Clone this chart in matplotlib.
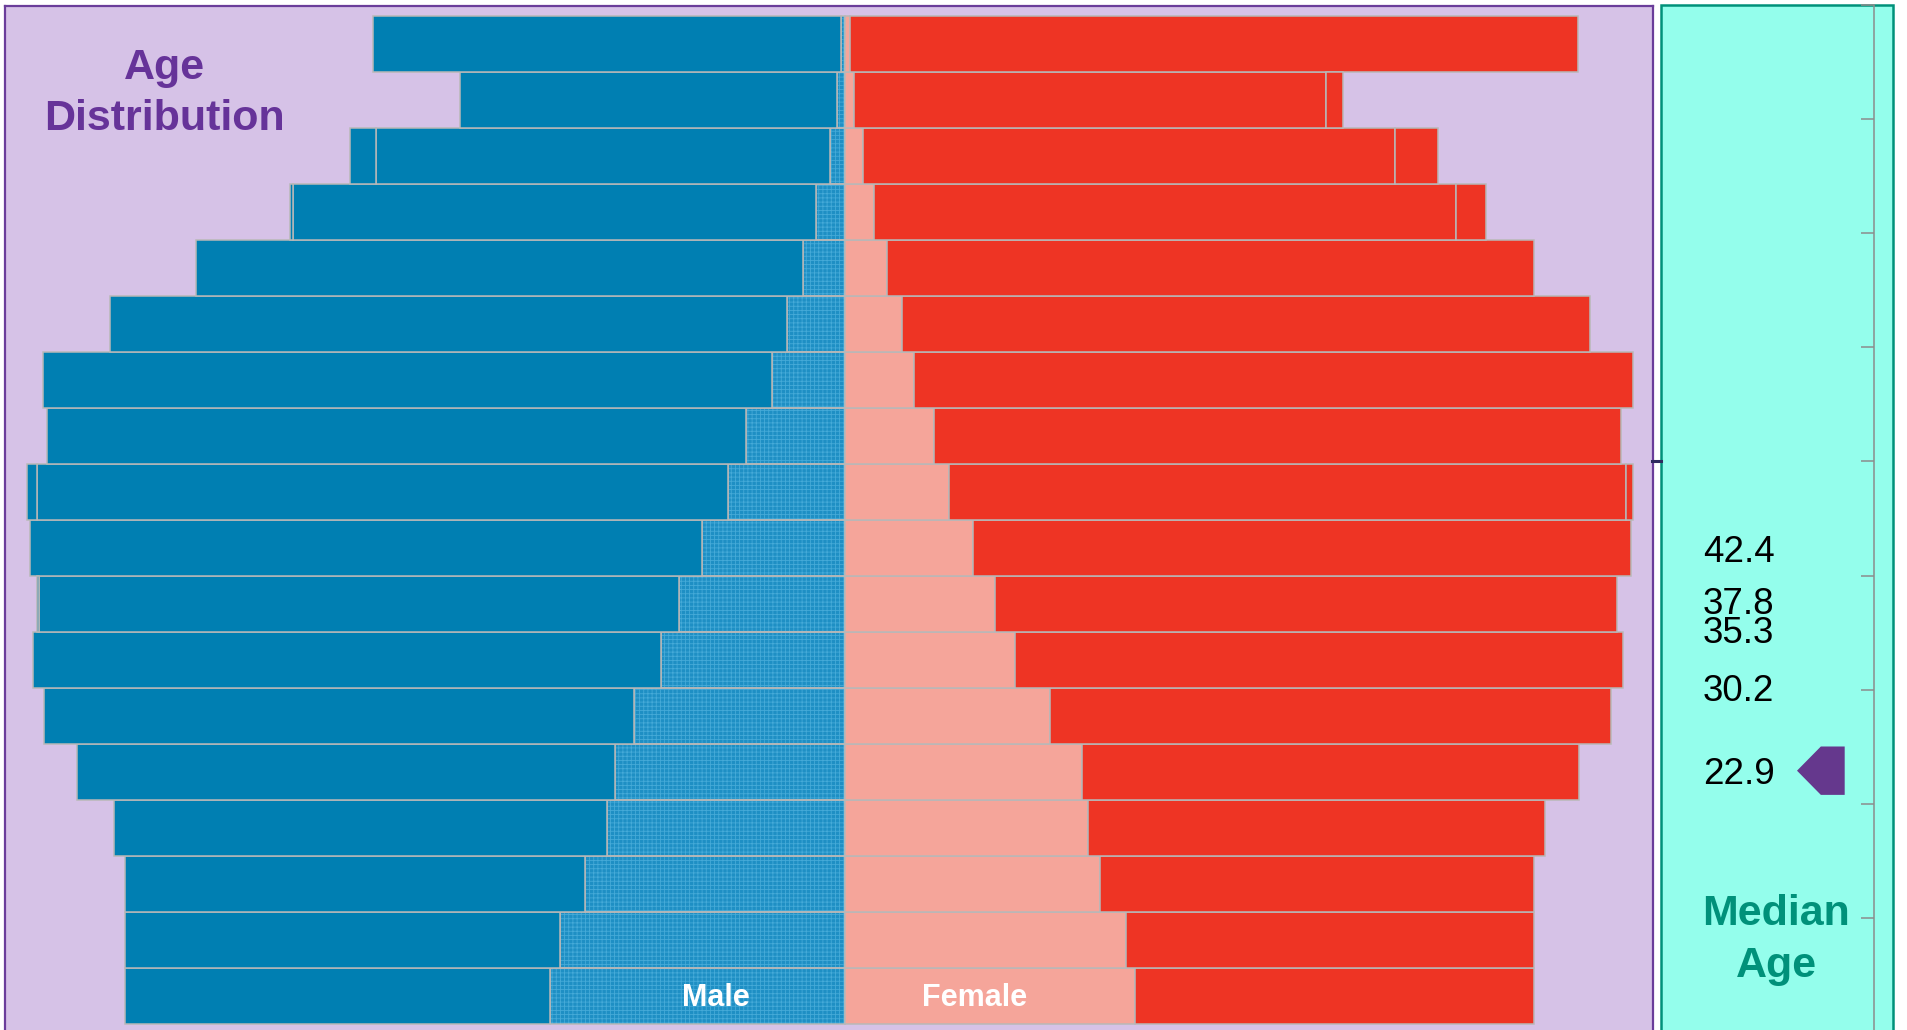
import numpy as np
import matplotlib
matplotlib.use("Agg")
import matplotlib.pyplot as plt
from matplotlib.patches import Rectangle, Polygon
from matplotlib.transforms import blended_transform_factory, offset_copy

plt.rcParams["font.family"] = ["Liberation Sans", "DejaVu Sans"]
plt.rcParams["hatch.linewidth"] = 0.6

# Age groups, youngest first
age_groups = ["0-4", "5-9", "10-14", "15-19", "20-24", "25-29", "30-34", "35-39",
              "40-44", "45-49", "50-54", "55-59", "60-64", "65-69", "70-74",
              "75-79", "80-84", "85+"]

# Male segments (inner = textured, main = solid, extra = outer piece)
male_inner = [29.5, 28.5, 26.0, 23.8, 23.0, 21.1, 18.4, 16.6, 14.3, 11.7,
              9.9, 7.3, 5.8, 4.2, 2.9, 1.5, 0.8, 0.4]
male_main = [42.5, 43.5, 46.0, 49.3, 53.8, 59.0, 62.8, 64.0, 67.2, 69.1,
             69.9, 72.9, 67.7, 60.7, 52.3, 45.4, 37.7, 46.8]
male_extra = [0, 0, 0, 0, 0, 0, 0, 0.2, 0, 1.0,
              0, 0, 0, 0, 0.3, 2.6, 0, 0]

# Female segments
female_inner = [29.0, 28.1, 25.5, 24.3, 23.7, 20.5, 17.0, 15.0, 12.8, 10.4,
                8.9, 6.9, 5.7, 4.2, 2.9, 1.8, 0.9, 0.5]
female_main = [39.9, 40.8, 43.4, 45.7, 49.7, 56.1, 60.8, 62.2, 65.8, 67.7,
               68.7, 71.9, 68.8, 64.7, 58.2, 53.2, 47.2, 72.8]
female_extra = [0, 0, 0, 0, 0, 0, 0, 0, 0, 0.7,
                0, 0, 0, 0, 3.0, 4.3, 1.7, 0]

# Median ages shown on the side scale; the last one is highlighted
median_ages = [42.4, 37.8, 35.3, 30.2, 22.9]
highlight_age = 22.9
age_ticks = list(range(0, 100, 10))

W, H = 1908, 1030
fig = plt.figure(figsize=(W / 100, H / 100), dpi=100, facecolor="white")


def fx(px):
    return px / W


def fy(px):
    return 1 - px / H


LAV = "#D6C2E7"
BLUE = "#007FB2"
BLUE_TEX = "#1E8FC4"
BLUE_TEX_LINE = "#45AAD8"
RED = "#EE3424"
PINK = "#F5A59A"
EDGE = "#B8B8B8"
PURPLE = "#663399"
TEAL = "#00917A"
AQUA = "#94FEEC"

# ---- pyramid panel ----
ax = fig.add_axes([fx(4.7), fy(1040), fx(1652.7 - 4.7), 1034 / H])
ax.set_facecolor(LAV)
ax.set_xlim(-83.98, 80.82)
ax.set_ylim(-0.791, 17.673)

y = np.arange(len(age_groups))
mi = np.array(male_inner)
mm = np.array(male_main)
me = np.array(male_extra)
fi = np.array(female_inner)
fm = np.array(female_main)
fe = np.array(female_extra)

lw = 1.1
# textured inner male bars: fill + fine grid, then outline
ax.barh(y, -mi, left=0, height=1.0, color=BLUE_TEX, edgecolor=BLUE_TEX_LINE,
        hatch="++++", linewidth=0, zorder=2)
ax.barh(y, -mi, left=0, height=1.0, fill=False, edgecolor=EDGE, linewidth=lw, zorder=3)
ax.barh(y, -mm, left=-mi, height=1.0, color=BLUE, edgecolor=EDGE, linewidth=lw, zorder=3)
mask = me > 0
ax.barh(y[mask], -me[mask], left=-(mi + mm)[mask], height=1.0, color=BLUE,
        edgecolor=EDGE, linewidth=lw, zorder=3)

ax.barh(y, fi, left=0, height=1.0, color=PINK, edgecolor=EDGE, linewidth=lw, zorder=3)
ax.barh(y, fm, left=fi, height=1.0, color=RED, edgecolor=EDGE, linewidth=lw, zorder=3)
mask = fe > 0
ax.barh(y[mask], fe[mask], left=(fi + fm)[mask], height=1.0, color=RED,
        edgecolor=EDGE, linewidth=lw, zorder=3)

ax.set_xticks([])
ax.set_yticks([])
for side in ["left", "top", "right"]:
    ax.spines[side].set_color("#6A3D9A")
    ax.spines[side].set_linewidth(1.6)
ax.spines["bottom"].set_visible(False)

fig.text(fx(164.8), fy(79), "Age", ha="center", va="baseline",
         fontsize=31, fontweight="bold", color=PURPLE)
fig.text(fx(164.8), fy(130), "Distribution", ha="center", va="baseline",
         fontsize=31, fontweight="bold", color=PURPLE)
fig.text(fx(715.5), fy(1006), "Male", ha="center", va="baseline",
         fontsize=22, fontweight="bold", color="white")
fig.text(fx(974.7), fy(1006), "Female", ha="center", va="baseline",
         fontsize=22, fontweight="bold", color="white")

# ---- median age panel ----
panel = Rectangle((fx(1661), fy(1045)), fx(1893 - 1661), (1045 - 5) / H,
                  transform=fig.transFigure, facecolor=AQUA, edgecolor=TEAL,
                  linewidth=1.8, zorder=-1)
fig.patches.append(panel)

ax2 = fig.add_axes([fx(1661), fy(1032), fx(1874 - 1661), 1027 / H])
ax2.set_facecolor("none")
ax2.set_xlim(0, 1)
ax2.set_ylim(0, 90)
ax2.set_xticks([])
ax2.set_yticks(age_ticks)
ax2.yaxis.tick_right()
ax2.tick_params(axis="y", direction="in", length=9.4, width=1.1,
                color="#8C8C8C", labelright=False, right=True, left=False)
for side in ["left", "top", "bottom"]:
    ax2.spines[side].set_visible(False)
ax2.spines["right"].set_color("#8C8C8C")
ax2.spines["right"].set_linewidth(1.1)

tr = blended_transform_factory(ax2.transAxes, ax2.transData)
tr_text = offset_copy(tr, fig=fig, x=0, y=-3, units="points")
for v in median_ages:
    ax2.text(0.197, v, f"{v:.1f}", transform=tr_text, ha="left", va="center",
             fontsize=26.5, color="black")

# pointer marker at the highlighted median
half = 2.12
x_tip, x_mid, x_end = 0.6385, 0.7505, 0.8624
ax2.add_patch(Polygon([(x_tip, highlight_age), (x_mid, highlight_age + half),
                       (x_end, highlight_age + half), (x_end, highlight_age - half),
                       (x_mid, highlight_age - half)],
                      closed=True, transform=tr, facecolor="#65388D",
                      edgecolor="none", zorder=4))

# connector tick between the two panels
ax2.plot([-0.042, 0.0], [50, 50], transform=tr, color="#2E2A5E",
         linewidth=2.2, clip_on=False, zorder=5)

fig.text(fx(1776), fy(925.3), "Median", ha="center", va="baseline",
         fontsize=31, fontweight="bold", color=TEAL)
fig.text(fx(1776), fy(976.6), "Age", ha="center", va="baseline",
         fontsize=31, fontweight="bold", color=TEAL)

fig.savefig("out.png", dpi=100, facecolor="white")
